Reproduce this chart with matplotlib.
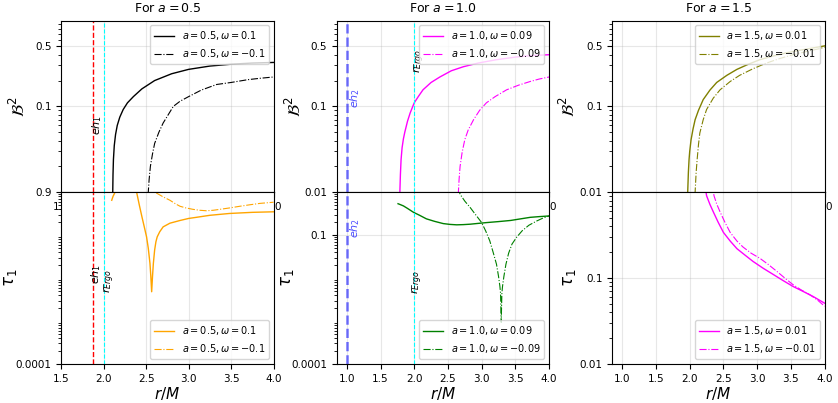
import matplotlib
matplotlib.use('Agg')

import matplotlib.pyplot as plt
import numpy as np

# ---- data ----
# a = 0.5
r_b_05p = [2.105, 2.107, 2.11, 2.115, 2.125, 2.14, 2.16, 2.19, 2.23, 2.28, 2.35, 2.45, 2.6, 2.8, 3.0, 3.25, 3.5, 3.75, 4.0]
b_05p = [0.005, 0.01, 0.016, 0.024, 0.035, 0.047, 0.06, 0.075, 0.092, 0.11, 0.13, 0.16, 0.2, 0.24, 0.27, 0.295, 0.31, 0.32, 0.325]
r_b_05m = [2.515, 2.525, 2.535, 2.55, 2.575, 2.60, 2.65, 2.70, 2.76, 2.82, 2.9, 3.0, 3.15, 3.33, 3.5, 3.7, 3.85, 4.0]
b_05m = [0.005, 0.01, 0.014, 0.02, 0.028, 0.037, 0.05, 0.064, 0.08, 0.10, 0.115, 0.13, 0.155, 0.18, 0.19, 0.205, 0.213, 0.22]
r_t_05p = [2.095, 2.11, 2.13, 2.2, 2.33, 2.39, 2.42, 2.45, 2.48, 2.505, 2.525, 2.545, 2.555, 2.565,
           2.575, 2.585, 2.60, 2.615, 2.63, 2.66, 2.70, 2.78, 2.90, 3.0, 3.09, 3.25, 3.48, 3.75, 4.0]
t_05p = [0.65, 0.8, 0.96, 3.0, 3.0, 0.96, 0.5, 0.27, 0.15, 0.091, 0.05, 0.022, 0.011, 0.0048,
         0.011, 0.022, 0.045, 0.07, 0.091, 0.12, 0.156, 0.19, 0.22, 0.245, 0.26, 0.29, 0.32, 0.34, 0.35]
r_t_05m = [2.5, 2.62, 2.7, 2.78, 2.85, 2.90, 2.97, 3.05, 3.13, 3.21, 3.29, 3.37, 3.48, 3.60, 3.72, 3.84, 4.0]
t_05m = [3.0, 0.96, 0.78, 0.65, 0.53, 0.47, 0.43, 0.40, 0.38, 0.37, 0.38, 0.40, 0.43, 0.47, 0.51, 0.55, 0.585]

# a = 1.0
r_b_10p = [1.78, 1.787, 1.795, 1.805, 1.82, 1.84, 1.86, 1.9, 1.94, 2.0, 2.06, 2.13, 2.25, 2.38, 2.55, 2.73, 2.95, 3.22, 3.5, 3.72, 4.0]
b_10p = [0.005, 0.01, 0.016, 0.024, 0.033, 0.042, 0.05, 0.067, 0.084, 0.11, 0.13, 0.156, 0.19, 0.22, 0.26, 0.29, 0.32, 0.35, 0.375, 0.39, 0.40]
r_b_10m = [2.645, 2.655, 2.665, 2.68, 2.71, 2.75, 2.8, 2.88, 2.97, 3.07, 3.2, 3.37, 3.55, 3.72, 3.85, 4.0]
b_10m = [0.005, 0.01, 0.014, 0.02, 0.029, 0.041, 0.053, 0.07, 0.09, 0.11, 0.13, 0.156, 0.177, 0.195, 0.208, 0.22]
r_t_10p = [1.76, 1.8, 1.84, 1.9, 1.99, 2.08, 2.18, 2.3, 2.43, 2.53, 2.63, 2.73, 2.83, 2.95, 3.07, 3.25, 3.43, 3.58, 3.72, 3.85, 4.0]
t_10p = [0.54, 0.51, 0.48, 0.42, 0.34, 0.29, 0.24, 0.21, 0.186, 0.178, 0.174, 0.176, 0.18, 0.188, 0.196, 0.207, 0.22, 0.24, 0.26, 0.27, 0.28]
r_t_10m = [2.65, 2.68, 2.75, 2.83, 2.91, 3.0, 3.06, 3.12, 3.17, 3.22, 3.25, 3.27, 3.28, 3.29, 3.30, 3.31,
           3.33, 3.36, 3.40, 3.45, 3.52, 3.60, 3.70, 3.82, 3.91, 4.0]
t_10m = [1.3, 0.9, 0.62, 0.44, 0.3, 0.196, 0.125, 0.074, 0.04, 0.021, 0.011, 0.0065, 0.0045, 0.00093, 0.0045, 0.0065,
         0.011, 0.021, 0.038, 0.062, 0.09, 0.126, 0.17, 0.215, 0.25, 0.28]

# a = 1.5
r_b_15p = [1.96, 1.97, 1.98, 1.99, 2.0, 2.02, 2.05, 2.08, 2.13, 2.20, 2.3, 2.40, 2.55, 2.70, 2.87, 3.04, 3.23, 3.43, 3.63, 3.83, 4.02]
b_15p = [0.005, 0.01, 0.017, 0.024, 0.03, 0.041, 0.055, 0.07, 0.09, 0.12, 0.155, 0.19, 0.23, 0.27, 0.31, 0.35, 0.385, 0.42, 0.45, 0.48, 0.51]
r_b_15m = [2.07, 2.08, 2.095, 2.11, 2.13, 2.15, 2.2, 2.25, 2.35, 2.45, 2.6, 2.74, 2.94, 3.14, 3.33, 3.53, 3.73, 3.92, 4.0]
b_15m = [0.005, 0.01, 0.017, 0.024, 0.036, 0.049, 0.07, 0.092, 0.125, 0.156, 0.195, 0.23, 0.275, 0.32, 0.36, 0.40, 0.435, 0.47, 0.49]
r_t_15p = [2.22, 2.25, 2.30, 2.35, 2.42, 2.50, 2.60, 2.70, 2.82, 2.94, 3.09, 3.24, 3.38, 3.53, 3.68, 3.83, 4.0]
t_15p = [1.3, 0.91, 0.72, 0.59, 0.45, 0.34, 0.27, 0.22, 0.185, 0.156, 0.13, 0.11, 0.094, 0.080, 0.07, 0.061, 0.051]
r_t_15m = [2.33, 2.36, 2.40, 2.45, 2.52, 2.60, 2.70, 2.79, 2.91, 3.04, 3.16, 3.29, 3.41, 3.53, 3.65, 3.78, 3.9, 4.0]
t_15m = [1.3, 0.91, 0.73, 0.59, 0.45, 0.34, 0.27, 0.23, 0.195, 0.17, 0.145, 0.12, 0.10, 0.084, 0.073, 0.064, 0.055, 0.047]

eh1, eh2, r_ergo = 1.87, 1.0, 2.0

fig, axs = plt.subplots(2, 3, figsize=(8.38, 4.03), dpi=100)
fig.subplots_adjust(left=0.073, right=0.984, top=0.949, bottom=0.097, wspace=0.297, hspace=0)

FS = 8
LFS = 7
lw = 1.0

# ---------- a = 0.5 ----------
ax1, ax2 = axs[0, 0], axs[1, 0]
ax1.plot(r_b_05p, b_05p, color='black', lw=lw, label=r'$a=0.5,\omega=0.1$')
ax1.plot(r_b_05m, b_05m, color='black', ls='-.', lw=0.8, label=r'$a=0.5,\omega=-0.1$')
ax2.plot(r_t_05p, t_05p, color='orange', lw=lw, label=r'$a=0.5,\omega=0.1$')
ax2.plot(r_t_05m, t_05m, color='orange', ls='-.', lw=0.8, label=r'$a=0.5,\omega=-0.1$')
for ax in (ax1, ax2):
    ax.axvline(eh1, color='red', ls='--', lw=1.0)
    ax.axvline(r_ergo, color='cyan', ls='--', lw=0.8)
    ax.set_xlim(1.5, 4.0)
    ax.set_xticks([1.5, 2.0, 2.5, 3.0, 3.5, 4.0])
ax1.text(1.925, 0.061, r'$eh_1$', rotation=90, fontsize=FS, ha='center', va='center')
ax2.text(1.915, 0.0124, r'$eh_1$', rotation=90, fontsize=FS, ha='center', va='center')
ax2.text(2.065, 0.0085, r'$r_{Ergo}$', rotation=90, fontsize=FS, ha='center', va='center')
ax1.set_yscale('log')
ax1.set_ylim(0.01, 1)
ax1.set_yticks([0.01, 0.1, 0.5])
ax1.set_yticklabels(['0.9', '0.1', '0.5'])
ax2.set_yscale('log')
ax2.set_ylim(1e-4, 1)
ax2.set_yticks([1e-4])
ax2.set_yticklabels(['0.0001'])
ax1.set_title(r'For $a=0.5$', fontsize=9)

# ---------- a = 1.0 ----------
ax3, ax4 = axs[0, 1], axs[1, 1]
ax3.plot(r_b_10p, b_10p, color='magenta', lw=lw, label=r'$a=1.0,\omega=0.09$')
ax3.plot(r_b_10m, b_10m, color='magenta', ls='-.', lw=0.8, label=r'$a=1.0,\omega=-0.09$')
ax4.plot(r_t_10p, t_10p, color='green', lw=lw, label=r'$a=1.0,\omega=0.09$')
ax4.plot(r_t_10m, t_10m, color='green', ls='-.', lw=0.8, label=r'$a=1.0,\omega=-0.09$')
for ax in (ax3, ax4):
    ax.axvline(eh2, color='blue', ls='--', lw=1.8, alpha=0.55)
    ax.axvline(r_ergo, color='cyan', ls='--', lw=0.8)
    ax.set_xlim(0.85, 4.0)
    ax.set_xticks([1.0, 1.5, 2.0, 2.5, 3.0, 3.5, 4.0])
ax3.text(1.13, 0.126, r'$eh_2$', rotation=90, fontsize=FS, color='blue', alpha=0.7, ha='center', va='center')
ax3.text(2.08, 0.34, r'$r_{Ergo}$', rotation=90, fontsize=FS, ha='center', va='center')
ax4.text(1.13, 0.145, r'$eh_2$', rotation=90, fontsize=FS, color='blue', alpha=0.7, ha='center', va='center')
ax4.text(2.05, 0.008, r'$r_{Ergo}$', rotation=90, fontsize=FS, ha='center', va='center')
ax3.set_yscale('log')
ax3.set_ylim(0.01, 1)
ax3.set_yticks([0.01, 0.1, 0.5])
ax3.set_yticklabels(['0.01', '0.1', '0.5'])
ax4.set_yscale('log')
ax4.set_ylim(1e-4, 1)
ax4.set_yticks([1e-4, 0.1])
ax4.set_yticklabels(['0.0001', '0.1'])
ax3.set_title(r'For $a=1.0$', fontsize=9)

# ---------- a = 1.5 ----------
ax5, ax6 = axs[0, 2], axs[1, 2]
ax5.plot(r_b_15p, b_15p, color='olive', lw=lw, label=r'$a=1.5,\omega=0.01$')
ax5.plot(r_b_15m, b_15m, color='olive', ls='-.', lw=0.8, label=r'$a=1.5,\omega=-0.01$')
ax6.plot(r_t_15p, t_15p, color='magenta', lw=lw, label=r'$a=1.5,\omega=0.01$')
ax6.plot(r_t_15m, t_15m, color='magenta', ls='-.', lw=0.8, label=r'$a=1.5,\omega=-0.01$')
for ax in (ax5, ax6):
    ax.set_xlim(0.85, 4.0)
    ax.set_xticks([1.0, 1.5, 2.0, 2.5, 3.0, 3.5, 4.0])
ax5.set_yscale('log')
ax5.set_ylim(0.01, 1)
ax5.set_yticks([0.01, 0.1, 0.5])
ax5.set_yticklabels(['0.01', '0.1', '0.5'])
ax6.set_yscale('log')
ax6.set_ylim(0.01, 1)
ax6.set_yticks([0.01, 0.1])
ax6.set_yticklabels(['0.01', '0.1'])
ax5.set_title(r'For $a=1.5$', fontsize=9)

# common styling
for ax in axs[0]:
    ax.set_ylabel(r'$\mathcal{B}^2$', fontsize=12)
    ax.legend(loc='upper right', fontsize=LFS)
for ax in axs[1]:
    ax.set_ylabel(r'$\tau_1$', fontsize=12)
    ax.set_xlabel(r'$r/M$', fontsize=11, labelpad=1)
    ax.legend(loc='lower right', fontsize=LFS)
for ax, xc in zip(axs[0], [-0.15, -0.15, -0.155]):
    ax.yaxis.set_label_coords(xc, 0.5)
for ax, xc in zip(axs[1], [-0.2, -0.19, -0.16]):
    ax.yaxis.set_label_coords(xc, 0.5)
for ax in axs.flat:
    ax.grid(alpha=0.3)
    ax.tick_params(labelsize=7.5)

plt.savefig('out.png')
